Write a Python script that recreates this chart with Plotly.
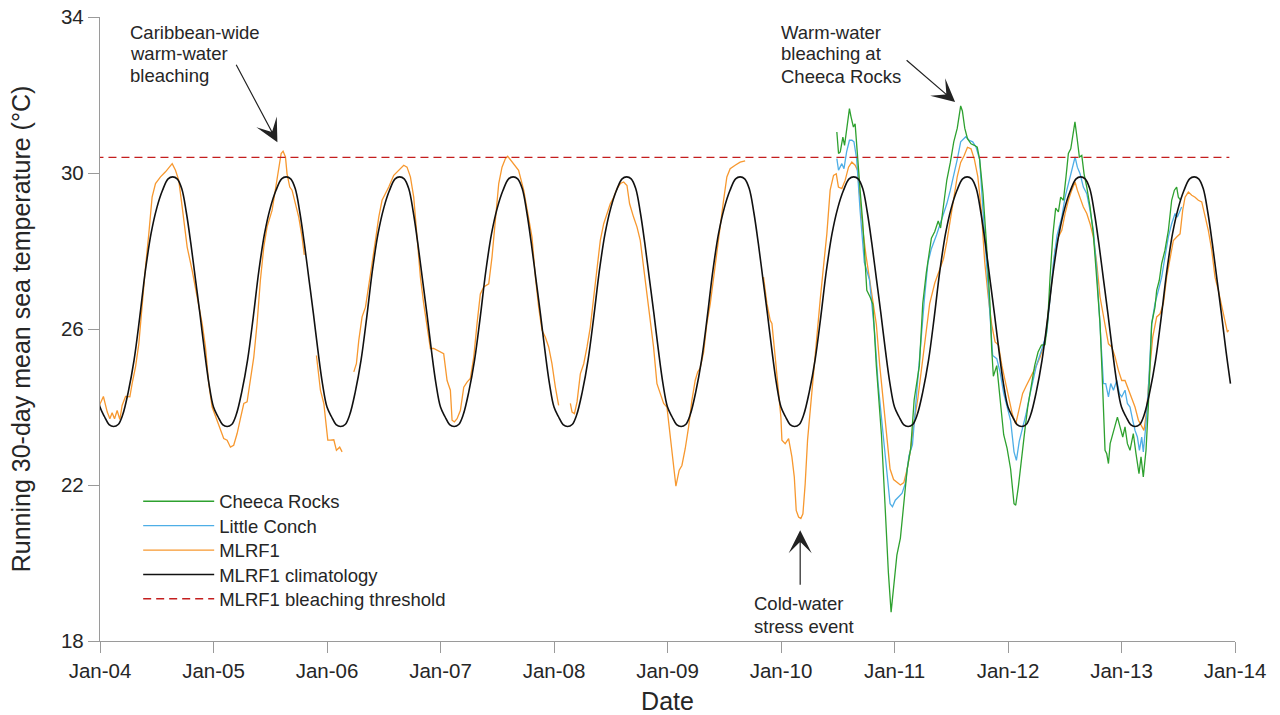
import plotly.graph_objects as go

# ---------------- data (decimal years, deg C) ----------------
YEARS = [2004, 2005, 2006, 2007, 2008, 2009, 2010, 2011, 2012, 2013, 2014]
TICK_LABELS = ["Jan-04", "Jan-05", "Jan-06", "Jan-07", "Jan-08", "Jan-09",
               "Jan-10", "Jan-11", "Jan-12", "Jan-13", "Jan-14"]
Y_TICKS = [18, 22, 26, 30, 34]

BLEACHING_THRESHOLD = 30.4
THRESHOLD_SPAN = [2003.96, 2013.95]

# one-year climatology profile (fraction of year -> temperature), repeated each year
CLIM_FRAC = [0.00, 0.04, 0.08, 0.12, 0.16, 0.20, 0.25, 0.30, 0.35, 0.40, 0.45, 0.50,
             0.55, 0.60, 0.64, 0.68, 0.72, 0.76, 0.80, 0.84, 0.88, 0.92, 0.96]
CLIM_TEMP = [24.0, 23.75, 23.55, 23.5, 23.55, 23.8, 24.4, 25.2, 26.3, 27.5, 28.45, 29.1,
             29.55, 29.85, 29.9, 29.85, 29.6, 29.0, 28.2, 27.3, 26.4, 25.45, 24.6]
CLIM_SPAN = [2003.96, 2013.96]

mlrf1_date = [
    2003.965, 2003.994, 2004.030, 2004.064, 2004.087, 2004.107, 2004.128, 2004.151, 2004.175, 2004.195,
    2004.225, 2004.263, 2004.283, 2004.313, 2004.342, 2004.371, 2004.401, 2004.430, 2004.459, 2004.489,
    2004.533, 2004.577, 2004.621, 2004.636, 2004.665, 2004.694, 2004.724, 2004.768, 2004.812, 2004.856,
    2004.900, 2004.929, 2004.958, 2004.988, 2005.026, 2005.061, 2005.090, 2005.120, 2005.149, 2005.178,
    2005.208, 2005.237, 2005.267, 2005.296, 2005.325, 2005.355, 2005.384, 2005.413, 2005.443, 2005.472,
    2005.516, 2005.546, 2005.575, 2005.596, 2005.613, 2005.634, 2005.648, 2005.672, 2005.692, 2005.722,
    2005.751, 2005.780, 2005.800, None,
    2005.907, 2005.942, 2005.972, 2006.007, 2006.030, 2006.060, 2006.083, 2006.112, 2006.133, None,
    2006.236, 2006.259, 2006.280, 2006.309, 2006.339, 2006.368, 2006.397, 2006.427, 2006.456, 2006.485,
    2006.515, 2006.544, 2006.588, 2006.618, 2006.647, 2006.676, 2006.705, 2006.735, 2006.764, 2006.793,
    2006.823, 2006.852, 2006.882, 2006.911, 2006.940, 2006.970, 2006.999, 2007.028, 2007.058, 2007.087,
    2007.102, 2007.122, 2007.146, 2007.175, 2007.205, 2007.234, 2007.263, 2007.293, 2007.322, 2007.351,
    2007.381, 2007.425, 2007.454, 2007.483, 2007.513, 2007.542, 2007.572, 2007.592, 2007.621, 2007.660,
    2007.688, 2007.733, 2007.777, 2007.806, 2007.836, 2007.865, 2007.894, 2007.924, 2007.953, 2007.982,
    2008.012, 2008.041, None,
    2008.144, 2008.159, 2008.180, 2008.203, 2008.232, 2008.262, 2008.291, 2008.320, 2008.350, 2008.379,
    2008.408, 2008.438, 2008.467, 2008.496, 2008.526, 2008.555, 2008.585, 2008.614, 2008.643, 2008.666,
    2008.701, 2008.731, 2008.760, 2008.789, 2008.819, 2008.848, 2008.877, 2008.907, 2008.936, 2008.966,
    2008.995, 2009.024, 2009.053, 2009.074, 2009.103, 2009.127, 2009.156, 2009.186, 2009.215, 2009.244,
    2009.266, 2009.288, 2009.318, 2009.347, 2009.377, 2009.406, 2009.435, 2009.465, 2009.494, 2009.523,
    2009.552, 2009.596, 2009.640, 2009.684, None,
    2009.846, 2009.876, 2009.905, 2009.920, 2009.949, 2009.979, 2009.999, 2010.008, 2010.037, 2010.067,
    2010.096, 2010.117, 2010.134, 2010.155, 2010.175, 2010.193, 2010.213, 2010.234, 2010.257, 2010.287,
    2010.316, 2010.345, 2010.374, 2010.404, 2010.433, 2010.463, 2010.487, 2010.506, 2010.536, 2010.565,
    2010.595, 2010.624, 2010.653, 2010.674, 2010.697, 2010.719, 2010.749, 2010.794, 2010.840, 2010.870,
    2010.900, 2010.931, 2010.961, 2010.992, 2011.022, 2011.052, 2011.082, 2011.112, 2011.143, 2011.173,
    2011.204, 2011.249, 2011.280, 2011.310, 2011.355, 2011.401, 2011.431, 2011.461, 2011.492, 2011.522,
    2011.553, 2011.583, 2011.613, 2011.643, 2011.674, 2011.704, 2011.734, 2011.765, 2011.795, 2011.826,
    2011.856, 2011.886, 2011.916, 2011.946, 2011.977, 2012.007, 2012.038, 2012.068, 2012.099, 2012.129,
    2012.159, 2012.189, 2012.219, 2012.250, 2012.283, 2012.327, 2012.371, 2012.415, 2012.444, 2012.474,
    2012.503, 2012.532, 2012.562, 2012.591, 2012.611, 2012.635, 2012.664, 2012.694, 2012.723, 2012.752,
    2012.782, 2012.811, 2012.855, 2012.885, 2012.914, 2012.944, 2012.973, 2013.002, 2013.031, 2013.061,
    2013.090, 2013.119, 2013.149, 2013.178, 2013.198, 2013.222, 2013.245, 2013.275, 2013.310, 2013.340,
    2013.369, 2013.398, 2013.428, 2013.457, 2013.486, 2013.516, 2013.539, 2013.560, 2013.589, 2013.619,
    2013.648, 2013.677, 2013.707, 2013.736, 2013.765, 2013.795, 2013.824, 2013.853, 2013.883, 2013.912,
    2013.933, 2013.944,
]
mlrf1_temp = [
    24.13, 24.04, 24.27, 23.87, 23.70, 23.85, 23.70, 23.91, 23.68, 24.04,
    24.27, 24.26, 24.60, 25.03, 25.62, 26.65, 27.59, 28.44, 29.38, 29.73,
    29.90, 30.03, 30.20, 30.24, 30.07, 29.81, 29.13, 28.10, 27.50, 26.82,
    26.14, 25.54, 24.60, 24.00, 23.70, 23.40, 23.19, 23.15, 22.97, 23.02,
    23.32, 23.70, 24.09, 24.13, 24.68, 25.28, 26.14, 27.25, 28.10, 28.62,
    29.04, 29.56, 30.07, 30.50, 30.56, 30.41, 29.98, 29.64, 29.56, 29.21,
    28.87, 28.36, 27.90, None,
    25.32, 24.43, 24.09, 23.15, 23.15, 23.16, 22.89, 22.97, 22.85, None,
    24.90, 25.11, 25.71, 26.31, 26.56, 27.08, 27.68, 28.27, 28.87, 29.30,
    29.47, 29.64, 29.94, 30.03, 30.11, 30.20, 30.15, 29.90, 29.38, 28.36,
    27.33, 26.65, 26.05, 25.50, 25.50, 25.45, 25.41, 25.37, 24.68, 24.43,
    23.66, 23.62, 23.70, 23.91, 24.51, 24.64, 24.73, 25.28, 26.14, 26.90,
    27.08, 27.16, 27.85, 28.87, 29.73, 30.15, 30.37, 30.43, 30.32, 30.20,
    30.07, 29.56, 28.79, 28.36, 27.33, 26.56, 25.97, 25.79, 25.54, 25.11,
    24.51, 24.04, None,
    24.09, 23.87, 23.83, 24.13, 24.85, 25.11, 25.54, 26.05, 26.82, 27.59,
    28.27, 28.70, 28.96, 29.21, 29.38, 29.60, 29.73, 29.77, 29.68, 29.21,
    28.87, 28.62, 28.27, 27.59, 26.82, 26.14, 25.54, 24.60, 24.34, 24.09,
    24.00, 23.28, 22.46, 21.97, 22.38, 22.50, 22.93, 23.49, 24.17, 24.68,
    24.90, 25.00, 25.40, 26.14, 26.65, 27.33, 28.02, 28.70, 29.30, 29.90,
    30.11, 30.20, 30.28, 30.31, None,
    27.33, 26.65, 26.22, 26.14, 25.28, 24.43, 23.74, 23.15, 23.06, 23.19,
    22.72, 22.21, 21.35, 21.18, 21.14, 21.26, 22.03, 23.15, 23.91, 24.94,
    25.71, 26.74, 27.59, 28.44, 29.56, 29.94, 29.98, 29.64, 29.60, 29.81,
    30.15, 30.28, 30.20, 30.07, 29.30, 28.59, 27.88, 27.00, 26.12, 25.06,
    24.18, 23.29, 22.41, 22.14, 22.06, 22.00, 22.06, 22.41, 22.94, 23.64,
    24.18, 25.24, 25.94, 26.65, 27.18, 27.53, 27.79, 28.24, 28.77, 29.38,
    29.91, 30.27, 30.44, 30.66, 30.62, 30.35, 29.91, 29.03, 27.71, 26.82,
    26.12, 25.67, 25.59, 25.06, 24.62, 24.18, 23.82, 23.56, 24.00, 24.35,
    24.53, 24.70, 24.88, 25.06, 25.28, 25.71, 26.82, 28.02, 28.36, 28.53,
    28.96, 29.30, 29.56, 29.77, 29.56, 29.38, 29.13, 28.96, 28.70, 28.36,
    27.68, 26.82, 26.14, 25.62, 25.54, 25.28, 24.94, 24.68, 24.68, 24.43,
    24.21, 24.00, 23.66, 23.49, 23.40, 23.91, 24.85, 25.79, 26.31, 26.39,
    26.65, 27.33, 27.85, 28.27, 28.36, 28.44, 29.04, 29.38, 29.51, 29.43,
    29.38, 29.30, 29.26, 28.87, 28.53, 28.02, 27.33, 26.99, 26.56, 26.14,
    25.92, 25.97,
]

little_conch_date = [
    2010.492, 2010.507, 2010.536, 2010.555, 2010.578, 2010.603, 2010.625, 2010.643, 2010.667, 2010.697,
    2010.734, 2010.779, 2010.824, 2010.855, 2010.900, 2010.931, 2010.961, 2010.982, 2011.007, 2011.037,
    2011.067, 2011.097, 2011.128, 2011.158, 2011.189, 2011.234, 2011.265, 2011.295, 2011.325, 2011.370,
    2011.401, 2011.431, 2011.461, 2011.492, 2011.522, 2011.553, 2011.583, 2011.628, 2011.658, 2011.689,
    2011.719, 2011.750, 2011.780, 2011.811, 2011.841, 2011.865, 2011.901, 2011.931, 2011.962, 2011.992,
    2012.023, 2012.053, 2012.074, 2012.099, 2012.129, 2012.159, 2012.189, 2012.219, 2012.250, 2012.300,
    2012.341, 2012.371, 2012.400, 2012.432, 2012.462, 2012.474, 2012.503, 2012.532, 2012.562, 2012.591,
    2012.611, 2012.635, 2012.664, 2012.694, 2012.723, 2012.752, 2012.782, 2012.811, 2012.841, 2012.861,
    2012.885, 2012.905, 2012.929, 2012.958, 2012.982, 2013.002, 2013.031, 2013.052, 2013.075, 2013.099,
    2013.119, 2013.140, 2013.158, 2013.178, 2013.192, 2013.216, 2013.236, 2013.266, 2013.295, 2013.325,
    2013.354, 2013.383, 2013.413, 2013.442, 2013.472, 2013.492, 2013.516, 2013.530,
]
little_conch_temp = [
    30.37, 30.07, 30.24, 30.11, 30.54, 30.84, 30.84, 30.80, 30.35, 29.03,
    27.71, 27.27, 25.94, 24.62, 23.29, 22.41, 21.52, 21.44, 21.61, 21.70,
    21.79, 22.06, 22.76, 23.03, 24.18, 25.67, 26.82, 27.71, 28.06, 28.41,
    28.68, 28.94, 29.21, 29.56, 29.91, 30.35, 30.80, 30.93, 30.84, 30.80,
    30.66, 30.35, 29.03, 27.71, 26.38, 25.32, 25.24, 24.88, 24.35, 24.00,
    23.65, 22.85, 22.63, 23.12, 23.47, 23.82, 24.26, 24.70, 25.06, 25.50,
    25.90, 26.80, 27.70, 28.40, 28.75, 28.87, 29.38, 29.73, 30.07, 30.41,
    30.15, 29.98, 29.64, 29.47, 29.04, 28.53, 27.50, 25.97, 24.60, 24.60,
    24.26, 24.60, 24.43, 24.68, 24.34, 24.26, 24.43, 24.09, 24.00, 23.66,
    23.40, 23.23, 22.89, 23.23, 22.85, 23.57, 24.43, 26.14, 26.65, 26.99,
    27.33, 27.85, 28.36, 28.70, 28.96, 28.87, 29.04, 29.13,
]

cheeca_rocks_date = [
    2010.492, 2010.507, 2010.522, 2010.545, 2010.560, 2010.573, 2010.588, 2010.603, 2010.617, 2010.638,
    2010.653, 2010.668, 2010.682, 2010.697, 2010.721, 2010.741, 2010.756, 2010.785, 2010.809, 2010.840,
    2010.885, 2010.916, 2010.946, 2010.970, 2010.992, 2011.021, 2011.052, 2011.082, 2011.112, 2011.143,
    2011.173, 2011.219, 2011.249, 2011.280, 2011.325, 2011.355, 2011.385, 2011.406, 2011.431, 2011.461,
    2011.492, 2011.522, 2011.553, 2011.583, 2011.598, 2011.619, 2011.643, 2011.674, 2011.704, 2011.729,
    2011.750, 2011.780, 2011.811, 2011.841, 2011.856, 2011.871, 2011.901, 2011.931, 2011.962, 2011.992,
    2012.023, 2012.053, 2012.068, 2012.092, 2012.114, 2012.144, 2012.174, 2012.204, 2012.235, 2012.265,
    2012.295, 2012.326, 2012.350, 2012.370, 2012.395, 2012.420, 2012.444, 2012.464, 2012.488, 2012.511,
    2012.532, 2012.553, 2012.576, 2012.590, 2012.611, 2012.629, 2012.650, 2012.670, 2012.694, 2012.723,
    2012.752, 2012.782, 2012.811, 2012.835, 2012.855, 2012.870, 2012.885, 2012.900, 2012.923, 2012.944,
    2012.964, 2012.987, 2013.011, 2013.031, 2013.052, 2013.075, 2013.104, 2013.128, 2013.154, 2013.172,
    2013.192, 2013.216, 2013.236, 2013.266, 2013.295, 2013.310, 2013.333, 2013.354, 2013.383, 2013.413,
    2013.442, 2013.466, 2013.486, 2013.501, 2013.522,
]
cheeca_rocks_temp = [
    31.05, 30.50, 30.54, 30.92, 30.71, 31.00, 31.26, 31.65, 31.44, 31.18,
    31.26, 30.75, 30.15, 29.56, 28.70, 27.85, 26.99, 26.82, 26.64, 25.05,
    23.29, 21.52, 19.76, 18.74, 19.32, 20.20, 20.64, 21.44, 22.41, 22.94,
    24.18, 25.06, 26.65, 27.44, 28.33, 28.50, 28.77, 28.59, 29.21, 29.82,
    30.27, 30.80, 31.15, 31.72, 31.59, 31.15, 30.88, 30.75, 30.71, 30.66,
    30.35, 29.47, 28.15, 26.65, 25.50, 24.79, 25.06, 24.18, 23.29, 22.94,
    22.41, 21.52, 21.48, 21.97, 22.59, 23.29, 24.00, 24.53, 25.06, 25.41,
    25.59, 25.60, 26.20, 27.30, 28.40, 29.10, 29.00, 29.38, 29.30, 29.90,
    30.50, 30.62, 31.01, 31.31, 30.84, 30.41, 30.45, 29.98, 29.64, 29.13,
    28.44, 27.33, 26.14, 24.43, 22.89, 22.80, 22.55, 23.06, 23.32, 23.57,
    23.74, 23.49, 23.23, 23.49, 23.06, 22.89, 23.32, 22.80, 22.29, 22.72,
    22.21, 22.89, 24.00, 26.14, 26.56, 26.99, 27.25, 27.68, 28.02, 28.53,
    29.30, 29.56, 29.64, 29.38, 29.30,
]

# ---------------- climatology series (profile repeated each year) ----------------
clim_x, clim_y = [], []
for yr in range(2003, 2014):
    for f, v in zip(CLIM_FRAC, CLIM_TEMP):
        x = yr + f
        if CLIM_SPAN[0] <= x <= CLIM_SPAN[1]:
            clim_x.append(x)
            clim_y.append(v)

FONT = "Liberation Sans, Arial, Helvetica, sans-serif"
TXT = "#262626"
AXC = "#9a9a9a"

# page margin removed by the post script below, so figure pixels == page pixels
OFF = 0
# plot area in page pixels: x 99.5..1235, y 16.7..640.7
L = 99.5 - OFF
R = 1280 - (1235 - OFF)
T = 16.7 - OFF
B = 715 - (640.7 - OFF)
PW = 1280 - L - R
PH = 715 - T - B


def px(page_x):
    return (page_x - OFF - L) / PW


def py(page_y):
    return (715 - B - (page_y - OFF)) / PH


fig = go.Figure()
fig.add_trace(go.Scatter(x=mlrf1_date, y=mlrf1_temp, mode="lines", name="MLRF1",
                         line=dict(color="#f7982f", width=1.3), connectgaps=False, legend="legend3"))
fig.add_trace(go.Scatter(x=little_conch_date, y=little_conch_temp, mode="lines", name="Little Conch",
                         line=dict(color="#4eaee6", width=1.3), legend="legend2"))
fig.add_trace(go.Scatter(x=cheeca_rocks_date, y=cheeca_rocks_temp, mode="lines", name="Cheeca Rocks",
                         line=dict(color="#2ea12f", width=1.3), legend="legend"))
fig.add_trace(go.Scatter(x=clim_x, y=clim_y, mode="lines", name="MLRF1 climatology",
                         line=dict(color="#111111", width=1.6, shape="spline", smoothing=1.0),
                         legend="legend4"))
fig.add_trace(go.Scatter(x=THRESHOLD_SPAN, y=[BLEACHING_THRESHOLD, BLEACHING_THRESHOLD], mode="lines",
                         name="MLRF1 bleaching threshold",
                         line=dict(color="#c41e1e", width=1.4, dash="8px,5px"), legend="legend5"))

annotations = []
for txt, yy in [("Caribbean-wide", 31.7), ("warm-water", 53.3), ("bleaching", 75.0)]:
    annotations.append(dict(text=txt, xref="paper", yref="paper", x=px(128), y=py(yy),
                            xanchor="left", yanchor="middle", showarrow=False,
                            font=dict(size=18.5, color=TXT, family=FONT)))
for txt, yy in [("Warm-water", 31.7), ("bleaching at", 53.3), ("Cheeca Rocks", 76.0)]:
    annotations.append(dict(text=txt, xref="paper", yref="paper", x=px(779), y=py(yy),
                            xanchor="left", yanchor="middle", showarrow=False,
                            font=dict(size=18.5, color=TXT, family=FONT)))
for txt, yy in [("Cold-water", 603.0), ("stress event", 626.0)]:
    annotations.append(dict(text=txt, xref="paper", yref="paper", x=px(752), y=py(yy),
                            xanchor="left", yanchor="middle", showarrow=False,
                            font=dict(size=18.5, color=TXT, family=FONT)))

# arrows (tip in data coords, tail offset in pixels)
for tip_x, tip_y, ax, ay in [(2005.563, 30.79, -42, -79), (2011.534, 31.82, -50, -43),
                             (2010.169, 20.84, 0, 56)]:
    annotations.append(dict(text="", x=tip_x, y=tip_y, xref="x", yref="y", ax=ax, ay=ay,
                            showarrow=True, arrowhead=3, arrowsize=3.2, arrowwidth=1.2,
                            arrowcolor="#222222", standoff=0))

legend_common = dict(xanchor="left", yanchor="top", font=dict(size=18.5, color=TXT, family=FONT),
                     itemwidth=71, bgcolor="rgba(0,0,0,0)")
legend_left_page = 142.7 - 5
legends = {}
for i, key in enumerate(["legend", "legend2", "legend3", "legend4", "legend5"]):
    top_page = 482.4 + 24.4 * i
    legends[key] = dict(x=px(legend_left_page), y=py(top_page), **legend_common)

fig.update_layout(
    width=1280, height=715,
    margin=dict(l=L, r=R, t=T, b=B, autoexpand=False),
    paper_bgcolor="white", plot_bgcolor="white",
    font=dict(family=FONT, color=TXT),
    annotations=annotations,
    showlegend=True,
    xaxis=dict(range=[2004, 2014], tickmode="array", tickvals=YEARS, ticktext=TICK_LABELS,
               showgrid=False, zeroline=False, showline=True, linecolor=AXC, linewidth=1.3,
               ticks="outside", ticklen=11, tickwidth=1.3, tickcolor=AXC, automargin=False,
               ticklabeloverflow="allow",
               tickfont=dict(size=20.5, color=TXT, family=FONT),
               title=dict(text="Date", font=dict(size=25, color=TXT, family=FONT), standoff=12)),
    yaxis=dict(range=[18, 34], tickmode="array", tickvals=Y_TICKS,
               showgrid=False, zeroline=False, showline=True, linecolor=AXC, linewidth=1.3,
               ticks="outside", ticklen=11, tickwidth=1.3, tickcolor=AXC, automargin=False,
               ticklabeloverflow="allow",
               tickfont=dict(size=20.5, color=TXT, family=FONT),
               title=dict(text="Running 30-day mean sea temperature (°C)",
                          font=dict(size=25, color=TXT, family=FONT), standoff=23)),
    **legends,
)

fig.write_html("out.html", config={"displayModeBar": False},
               post_script="document.body.style.margin='0px';")
